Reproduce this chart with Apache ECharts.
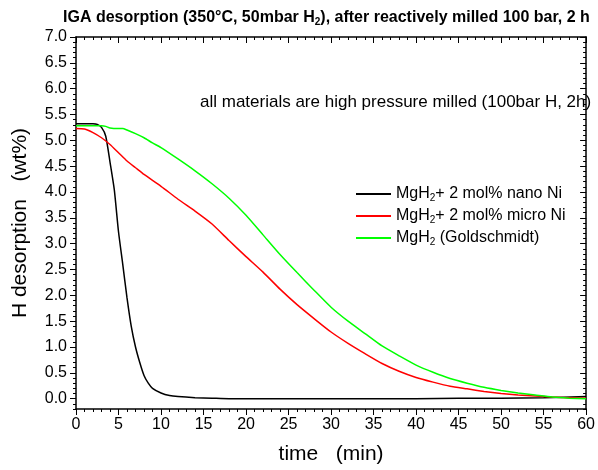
<!DOCTYPE html>
<html>
<head>
<meta charset="utf-8">
<script src="https://cdn.jsdelivr.net/npm/echarts@6/dist/echarts.min.js"></script>
<style>
  html, body { margin: 0; padding: 0; background: #fff; }
</style>
</head>
<body>
<div id="chart" style="width: 598px;height: 470px"></div>
<script>
  // time (min) / H desorption (wt%)
  var nanoTime = [0, 1, 2, 2.5, 3, 3.5, 4, 4.5, 5, 5.5, 6, 6.5, 7, 7.5, 8, 8.5, 9, 10, 11, 12, 14, 16, 18, 20, 25, 30, 35, 40, 45, 50, 55, 60];
  var nanoWt = [5.32, 5.32, 5.32, 5.31, 5.25, 5.08, 4.58, 4.05, 3.23, 2.6, 1.95, 1.4, 1.0, 0.7, 0.45, 0.3, 0.2, 0.11, 0.06, 0.04, 0.02, 0.01, 0, 0, 0, 0, 0, 0, 0.01, 0.01, 0.02, 0.04];

  var microTime = [0, 1, 2, 3, 4, 5, 6, 7, 8, 10, 12, 14, 16, 18, 20, 22, 24, 26, 28, 30, 32, 34, 36, 38, 40, 42, 44, 46, 48, 50, 52, 54, 56, 58, 60];
  var microWt = [5.23, 5.22, 5.15, 5.05, 4.92, 4.76, 4.6, 4.47, 4.34, 4.11, 3.86, 3.63, 3.38, 3.06, 2.75, 2.45, 2.12, 1.82, 1.55, 1.29, 1.07, 0.87, 0.68, 0.53, 0.41, 0.32, 0.24, 0.19, 0.14, 0.1, 0.07, 0.05, 0.03, 0.02, 0.01];

  var goldTime = [0, 1, 2, 3, 3.5, 4, 5, 5.5, 6, 7, 8, 9, 10, 12, 14, 16, 18, 20, 22, 24, 26, 28, 30, 32, 34, 36, 38, 40, 42, 44, 46, 48, 50, 52, 54, 56, 58, 60];
  var goldWt = [5.28, 5.28, 5.28, 5.28, 5.27, 5.24, 5.23, 5.23, 5.2, 5.13, 5.05, 4.95, 4.86, 4.64, 4.41, 4.16, 3.88, 3.55, 3.17, 2.79, 2.44, 2.1, 1.77, 1.5, 1.26, 1.02, 0.83, 0.65, 0.51, 0.39, 0.3, 0.22, 0.16, 0.11, 0.07, 0.03, 0.01, 0];

  var seriesNames = ['MgH2+ 2 mol% nano Ni', 'MgH2+ 2 mol% micro Ni', 'MgH2 (Goldschmidt)'];
  var legendLabels = ['MgH{sub|2}+ 2 mol% nano Ni', 'MgH{sub|2}+ 2 mol% micro Ni', 'MgH{sub|2} (Goldschmidt)'];
  var yMajor = [0, 0.5, 1, 1.5, 2, 2.5, 3, 3.5, 4, 4.5, 5, 5.5, 6, 6.5, 7];

  function pairs(xs, ys) {
    var out = [];
    for (var i = 0; i < xs.length; i++) {
      out.push([xs[i], ys[i]]);
    }
    return out;
  }

  var font = 'Liberation Sans, Arial, sans-serif';

  function yAxisDef(pos, major) {
    return {
      type: 'value',
      position: pos,
      offset: 0,
      min: -0.2,
      max: 7,
      interval: 0.1,
      axisLine: {show: !major, lineStyle: {color: '#000', width: 1.5}},
      axisTick: {
        show: true,
        inside: pos === 'right',
        length: major ? 6 : 3,
        customValues: major ? yMajor : undefined,
        lineStyle: {color: '#000', width: 1}
      },
      axisLabel: {
        show: pos === 'left' && !major,
        customValues: yMajor,
        margin: 9,
        fontSize: 16,
        fontFamily: font,
        color: '#000',
        formatter: function (v) {
          return v.toFixed(1);
        }
      },
      splitLine: {show: false},
      name: pos === 'left' && !major ? 'H desorption   (wt%)' : '',
      nameLocation: 'middle',
      nameGap: 45,
      nameTextStyle: {fontSize: 21, fontFamily: font, color: '#000'}
    };
  }

  function xAxisDef(pos) {
    return {
      type: 'value',
      position: pos,
      min: 0,
      max: 60,
      interval: 5,
      axisLine: {show: true, onZero: false, lineStyle: {color: '#000', width: 1.5}},
      axisTick: {show: true, inside: pos === 'top', length: 6, lineStyle: {color: '#000', width: 1}},
      minorTick: {show: true, splitNumber: 5, length: 3, lineStyle: {color: '#000', width: 1}},
      axisLabel: {
        show: pos === 'bottom',
        margin: 8,
        fontSize: 16,
        fontFamily: font,
        color: '#000'
      },
      splitLine: {show: false},
      name: pos === 'bottom' ? 'time   (min)' : '',
      nameLocation: 'middle',
      nameGap: 35,
      nameTextStyle: {fontSize: 21, fontFamily: font, color: '#000'}
    };
  }

  var chart = echarts.init(document.getElementById('chart'));
  var option = {
    animation: false,
    backgroundColor: '#fff',
    title: {
      text: 'IGA desorption (350°C, 50mbar H{sub|2}), after reactively milled 100 bar, 2 h',
      left: 63,
      top: 9,
      padding: 0,
      textStyle: {
        fontSize: 16,
        fontWeight: 'bold',
        fontFamily: font,
        color: '#000',
        rich: {sub: {fontSize: 10, fontWeight: 'bold', fontFamily: font, padding: [8, 0, 0, 0]}}
      }
    },
    grid: {left: 76, right: 6, top: 37, bottom: 61},
    legend: {
      orient: 'vertical',
      left: 355,
      top: 185,
      padding: 0,
      itemWidth: 35,
      itemHeight: 14,
      itemGap: 4,
      itemStyle: {opacity: 0},
      data: seriesNames,
      formatter: function (name) {
        return legendLabels[seriesNames.indexOf(name)];
      },
      textStyle: {
        fontSize: 16,
        fontFamily: font,
        color: '#000',
        lineHeight: 18,
        rich: {sub: {fontSize: 10, fontFamily: font, padding: [8, 0, 0, 0]}}
      }
    },
    graphic: [{
      type: 'text',
      left: 200,
      top: 94,
      style: {text: 'all materials are high pressure milled (100bar H, 2h)', fontSize: 17, fontFamily: font, fill: '#000'}
    }],
    xAxis: [xAxisDef('bottom'), xAxisDef('top')],
    yAxis: [yAxisDef('left', false), yAxisDef('left', true), yAxisDef('right', false), yAxisDef('right', true)],
    series: [{
      name: seriesNames[0],
      type: 'line',
      showSymbol: false,
      symbol: 'none',
      smooth: 0.2,
      color: '#000000',
      lineStyle: {width: 1.5},
      data: pairs(nanoTime, nanoWt)
    }, {
      name: seriesNames[1],
      type: 'line',
      showSymbol: false,
      symbol: 'none',
      smooth: 0.2,
      color: '#ff0000',
      lineStyle: {width: 1.5},
      data: pairs(microTime, microWt)
    }, {
      name: seriesNames[2],
      type: 'line',
      showSymbol: false,
      symbol: 'none',
      smooth: 0.2,
      color: '#00ff00',
      lineStyle: {width: 1.5},
      data: pairs(goldTime, goldWt)
    }]
  };
  chart.setOption(option);
</script>
</body>
</html>
